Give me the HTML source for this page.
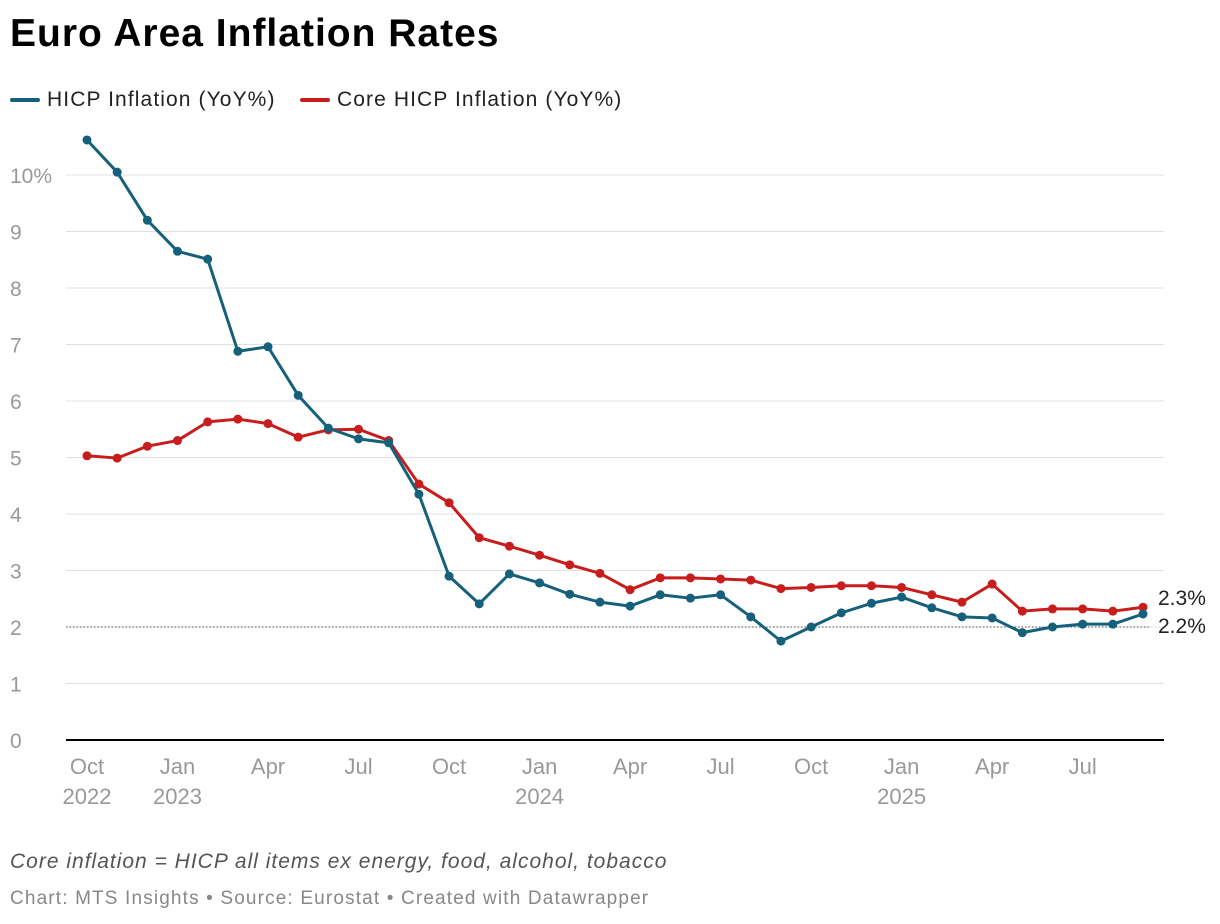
<!DOCTYPE html>
<html><head><meta charset="utf-8"><style>
body{margin:0;background:#fff;font-family:"Liberation Sans",Arial,sans-serif;}
#wrap{position:relative;width:1220px;height:924px;overflow:hidden;}
h1{position:absolute;left:10px;top:12px;margin:0;font-size:39px;font-weight:bold;color:#000;letter-spacing:1px}
.leg{position:absolute;top:88px;font-size:21px;color:#222;display:flex;align-items:center;letter-spacing:1.1px}
.leg span.sw{display:inline-block;width:30px;height:4px;margin-right:7px;border-radius:2px}
.note{position:absolute;left:10px;top:850px;font-size:21px;font-style:italic;color:#555;letter-spacing:1px}
.src{position:absolute;left:10px;top:888px;font-size:19px;color:#888;letter-spacing:1.15px}
</style></head><body><div id="wrap">
<h1>Euro Area Inflation Rates</h1>
<div class="leg" style="left:10px"><span class="sw" style="background:#15607a"></span>HICP Inflation (YoY%)</div>
<div class="leg" style="left:300px"><span class="sw" style="background:#c71e1d"></span>Core HICP Inflation (YoY%)</div>
<svg id="svg" width="1220" height="924" style="position:absolute;left:0;top:0"></svg>
<div class="note">Core inflation = HICP all items ex energy, food, alcohol, tobacco</div>
<div class="src">Chart: MTS Insights • Source: Eurostat • Created with Datawrapper</div>
</div>
<script>
const hicp=[10.62,10.05,9.2,8.65,8.51,6.88,6.96,6.1,5.52,5.33,5.26,4.35,2.9,2.41,2.94,2.78,2.58,2.44,2.37,2.57,2.51,2.57,2.18,1.75,2.0,2.25,2.42,2.53,2.34,2.18,2.16,1.9,2.0,2.05,2.05,2.23];
const core=[5.03,4.99,5.2,5.3,5.63,5.68,5.6,5.36,5.49,5.5,5.3,4.53,4.2,3.58,3.43,3.27,3.1,2.95,2.66,2.87,2.87,2.85,2.83,2.68,2.7,2.73,2.73,2.7,2.57,2.44,2.76,2.28,2.32,2.32,2.28,2.35];
const yTicks=[0,1,2,3,4,5,6,7,8,9,10];
const xTickIdx=[0,3,6,9,12,15,18,21,24,27,30,33];
const xTickLab=["Oct","Jan","Apr","Jul","Oct","Jan","Apr","Jul","Oct","Jan","Apr","Jul"];
const xYearLab={0:"2022",3:"2023",15:"2024",27:"2025"};
const NS="http://www.w3.org/2000/svg",svg=document.getElementById('svg');
const x=i=>87+i*(1143-87)/35, y=v=>740-v*56.5;
function mk(t,a,p){const e=document.createElementNS(NS,t);for(const k in a)e.setAttribute(k,a[k]);(p||svg).appendChild(e);return e;}
yTicks.forEach(t=>{
 const g=mk('line',{x1:66,x2:1164,y1:y(t),y2:y(t),stroke:t==0?'#000':'#e0e0e0','stroke-width':t==0?2:1});
 
 
 const tx=mk('text',{x:10,y:y(t)+8,'font-size':21,fill:'#999','font-family':'Liberation Sans'});tx.textContent=t==10?'10%':t;
 
 
});
const ref=mk('line',{x1:66,x2:1150,y1:y(2),y2:y(2),stroke:'#555','stroke-dasharray':'1.5,2','stroke-width':1});


xTickIdx.forEach((i,k)=>{
 const t=mk('text',{x:x(i),y:774,'font-size':22,fill:'#999','text-anchor':'middle','font-family':'Liberation Sans'});t.textContent=xTickLab[k];
 
 
 if(xYearLab[i]){const t2=mk('text',{x:x(i),y:804,'font-size':22,fill:'#999','text-anchor':'middle','font-family':'Liberation Sans'});t2.textContent=xYearLab[i];
 
 }
});
function series(d,c,n){
 const p=mk('polyline',{points:d.map((v,i)=>x(i)+','+y(v)).join(' '),fill:'none',stroke:c,'stroke-width':3,'stroke-linejoin':'round'});
 
 
 d.forEach((v,i)=>{const ci=mk('circle',{cx:x(i),cy:y(v),r:4.5,fill:c});
 
 });
}
series(core,'#c71e1d','core');
series(hicp,'#15607a','hicp');
[[core,'2.3%',-1.5],[hicp,'2.2%',2]].forEach(([d,l,o])=>{
 const t=mk('text',{x:1158,y:y(d[d.length-1])+7+o*6,'font-size':21,fill:'#222','font-family':'Liberation Sans'});t.textContent=l;
 
 
});
</script></body></html>
